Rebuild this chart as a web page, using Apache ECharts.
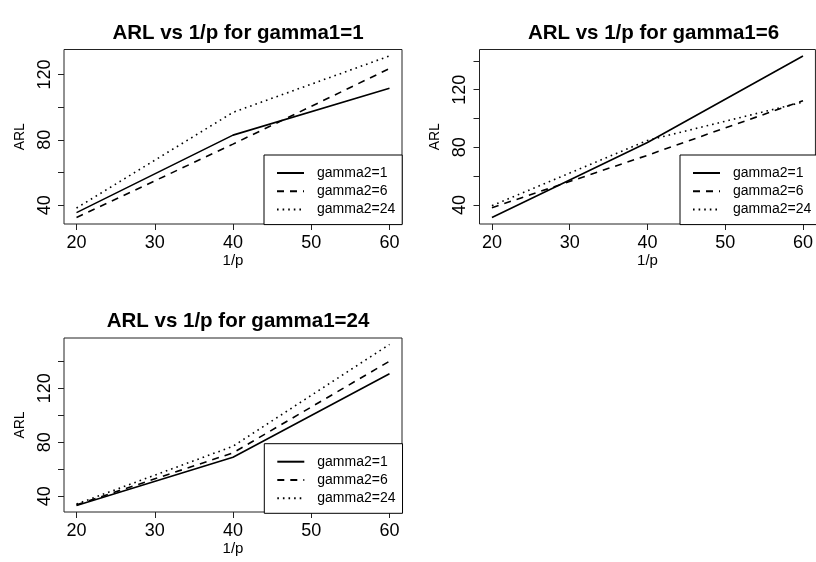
<!DOCTYPE html>
<html>
<head>
<meta charset="utf-8">
<script src="https://cdn.jsdelivr.net/npm/echarts@6/dist/echarts.min.js"></script>
<style>
  html, body { margin: 0; padding: 0; background: #fff; }
  #chart { width: 816px; height: 562px; }
</style>
</head>
<body>
<div id="chart"></div>
<script>
// x values: 1/p
const invP = [20, 40, 60];

// ARL for gamma1 = 1
const g1_1_g2_1  = [35.5, 82.9, 111.5];
const g1_1_g2_6  = [32.5, 77.4, 123.6];
const g1_1_g2_24 = [38.3, 96.8, 131.3];

// ARL for gamma1 = 6
const g1_6_g2_1  = [31.3, 83.4, 143.4];
const g1_6_g2_6  = [38.1, 74.5, 112.4];
const g1_6_g2_24 = [39.5, 84.8, 111.4];

// ARL for gamma1 = 24
const g1_24_g2_1  = [33.1, 68.9, 130.7];
const g1_24_g2_6  = [33.6, 72.1, 140.0];
const g1_24_g2_24 = [34.2, 77.0, 152.4];

const panelTitles = ['ARL vs 1/p for gamma1=1', 'ARL vs 1/p for gamma1=6', 'ARL vs 1/p for gamma1=24'];
const seriesNames = ['gamma2=1', 'gamma2=6', 'gamma2=24'];
const xTicks = [20, 30, 40, 50, 60];
const yTicksByPanel = [
  [40, 60, 80, 100, 120],
  [40, 60, 80, 100, 120, 140],
  [40, 60, 80, 100, 120, 140]
];
const yLabels = [40, 80, 120];

const panelData = [
  [g1_1_g2_1, g1_1_g2_6, g1_1_g2_24],
  [g1_6_g2_1, g1_6_g2_6, g1_6_g2_24],
  [g1_24_g2_1, g1_24_g2_6, g1_24_g2_24]
];

// layout of the three plot regions
const FONT = '"Liberation Sans", Arial, Helvetica, sans-serif';
const panels = [
  { left: 64,    top: 49.5, width: 338, height: 174.5, legendLeft: 264,   legendTop: 155 },
  { left: 479.5, top: 49.5, width: 338, height: 174.5, legendLeft: 680,   legendTop: 155 },
  { left: 64,    top: 338,  width: 338, height: 174,   legendLeft: 264.3, legendTop: 443.7 }
];
const dashTypes = ['solid', [7, 6], [1.6, 4]];

// R-style axis range: data range extended by 4% on each side
function paddedRange(values) {
  const lo = Math.min(...values), hi = Math.max(...values);
  const pad = (hi - lo) * 0.04;
  return [lo - pad, hi + pad];
}
const xRange = paddedRange(invP);

const grid = [], xAxis = [], yAxis = [], series = [], title = [], legend = [];

panels.forEach((p, i) => {
  grid.push({
    left: p.left, top: p.top, width: p.width, height: p.height,
    show: true, borderColor: '#222', borderWidth: 1, backgroundColor: 'transparent'
  });
  title.push({
    text: panelTitles[i],
    left: p.left + p.width / 2,
    top: p.top - 32,
    textAlign: 'center',
    textStyle: { fontFamily: FONT, fontWeight: 'bold', fontSize: 20.5, color: '#000' }
  });
  xAxis.push({
    type: 'value', gridIndex: i,
    min: xRange[0], max: xRange[1],
    name: '1/p', nameLocation: 'middle', nameGap: 29,
    nameTextStyle: { fontFamily: FONT, fontSize: 15, color: '#000' },
    axisLine: { show: false },
    axisTick: { show: true, length: 6, lineStyle: { color: '#222' }, customValues: xTicks },
    axisLabel: { show: true, margin: 10, fontFamily: FONT, fontSize: 18, color: '#000', customValues: xTicks },
    splitLine: { show: false }
  });
  const allVals = [].concat(...panelData[i]);
  const yr = paddedRange(allVals);
  yAxis.push({
    type: 'value', gridIndex: i,
    min: yr[0], max: yr[1],
    name: 'ARL', nameLocation: 'middle', nameGap: 37,
    nameTextStyle: { fontFamily: FONT, fontSize: 14, color: '#000' },
    axisLine: { show: false },
    axisTick: { show: true, length: 6, lineStyle: { color: '#222' }, customValues: yTicksByPanel[i] },
    axisLabel: { show: true, rotate: 90, margin: 10, fontFamily: FONT, fontSize: 18, color: '#000', customValues: yLabels },
    splitLine: { show: false }
  });
  panelData[i].forEach((vals, k) => {
    series.push({
      type: 'line', name: seriesNames[k],
      xAxisIndex: i, yAxisIndex: i,
      data: invP.map((x, j) => [x, vals[j]]),
      symbol: 'none', symbolSize: 0, showSymbol: false,
      lineStyle: { color: '#000', width: 1.6, type: dashTypes[k] },
      itemStyle: { color: '#000' },
      animation: false, silent: true
    });
  });
  legend.push({
    data: seriesNames,
    orient: 'vertical',
    left: p.legendLeft, top: p.legendTop,
    itemWidth: 27, itemHeight: 14, itemGap: 4.3,
    padding: [11, 7, 8, 12],
    borderColor: '#000', borderWidth: 1, borderRadius: 0,
    backgroundColor: '#fff',
    selectedMode: false,
    itemStyle: { opacity: 0 },
    textStyle: { fontFamily: FONT, fontSize: 14, color: '#000', padding: [0, 0, 0, 8] },
    z: 10
  });
});

const chart = echarts.init(document.getElementById('chart'), null, { renderer: 'canvas' });
chart.setOption({
  backgroundColor: '#fff',
  animation: false,
  title, grid, xAxis, yAxis, series, legend
});
</script>
</body>
</html>
